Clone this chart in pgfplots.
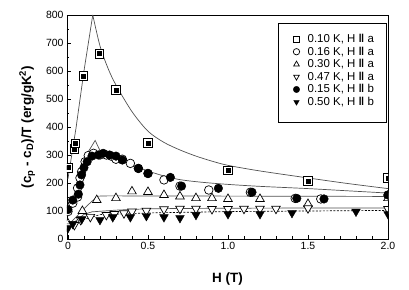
\documentclass[border=0pt]{standalone}
\usepackage{fontspec}
\setmainfont{Liberation Sans}
\usepackage{pgfplots}
\pgfplotsset{compat=1.18}
\definecolor{lngray}{RGB}{80,80,80}
\begin{document}
\begin{tikzpicture}
\begin{axis}[
 scale only axis, width=321bp, height=224bp,
 xmin=-0.006, xmax=2.0, ymin=0, ymax=800,
 xtick={0,0.5,1,1.5,2}, xticklabels={0,0.5,1.0,1.5,2.0},
 minor x tick num=4,
 ytick={0,100,...,800}, minor y tick num=1,
 tick pos=left, tick align=inside,
 major tick length=4bp, minor tick length=2.5bp,
 tick style={black, line width=0.6pt},
 axis line style={line width=0.8pt},
 ticklabel style={font=\fontsize{10.5}{12}\selectfont},
 /pgf/number format/assume math mode=true,
 xlabel={\textbf{H (T)}},
 ylabel={\textbf{(c\textsubscript{p} - c\textsubscript{D})/T (erg/gK\textsuperscript{2})}},
 label style={font=\fontsize{13.5}{15}\selectfont\bfseries},
 xlabel style={yshift=-16bp},
 ylabel style={yshift=4bp},
 clip marker paths=true,
 legend style={at={(0.994,0.964)}, anchor=north east, draw=black, fill=white,
   font=\fontsize{11.5}{11.5}\selectfont, inner xsep=10bp, inner ysep=9bp, row sep=-1.2bp,
   /tikz/every odd column/.append style={column sep=6bp}},
 legend cell align=left,
 legend image post style={mark size=3.2bp},
]
% fitted lines
\addplot[lngray, line width=0.7pt, forget plot] coordinates {(0,215) (0.05,395) (0.1,600) (0.155,800)};
\addplot[lngray, line width=0.7pt, smooth, forget plot] coordinates {(0.155,800) (0.2,690) (0.25,610) (0.3,550) (0.4,455) (0.5,385) (0.6,345) (0.7,318) (0.8,296) (0.9,278) (1.0,263) (1.2,243) (1.5,218) (1.75,198) (2.0,180)};
\addplot[lngray, line width=0.7pt, forget plot] coordinates {(0,90) (0.03,125) (0.06,175) (0.09,240) (0.12,305) (0.17,352) (0.2,316)};
\addplot[lngray, line width=0.7pt, smooth, forget plot] coordinates {(0.2,316) (0.3,290) (0.4,265) (0.5,243) (0.6,225) (0.7,212) (0.83,203) (1.0,195) (1.2,188) (1.5,180) (1.75,172) (2.0,164)};
\addplot[lngray, line width=0.7pt, forget plot] coordinates {(0,50) (0.05,78) (0.1,108) (0.15,135) (0.19,153) (0.25,154) (2.0,152)};
\addplot[lngray, line width=0.7pt, forget plot] coordinates {(0,45) (0.05,65) (0.1,88) (0.15,97) (0.3,103) (0.5,108) (1.0,110) (2.0,111)};
\addplot[black, line width=0.7pt, dash pattern=on 2pt off 1.5pt, forget plot] coordinates {(0,38) (0.1,70) (0.2,87) (0.5,93) (1.0,98) (2.0,102)};
% data
\addplot[only marks, mark=square*, mark size=4.3bp, mark options={draw=black, fill=white, line width=0.7pt}] coordinates {
(0.0,255) (0.04,322) (0.045,342) (0.095,582) (0.195,662) (0.3,532) (0.5,343) (1.0,245) (1.5,208) (2.0,218)};
\addlegendentry{0.10 K, H \textbf{‖} a}
\addplot[only marks, mark=*, mark size=4.3bp, mark options={draw=black, fill=white, line width=0.7pt}] coordinates {
(0.0,98) (0.03,128) (0.06,150) (0.06,182) (0.075,218) (0.085,240) (0.107,276) (0.127,298) (0.16,306) (0.2,300) (0.24,300) (0.27,296) (0.3,285) (0.34,285) (0.39,270) (0.44,252) (0.5,234) (0.6,211) (0.7,189) (0.88,175) (1.14,167) (1.42,145) (1.58,143) (2.0,157)};
\addlegendentry{0.16 K, H \textbf{‖} a}
\addplot[only marks, mark=triangle*, mark size=5bp, mark options={draw=black, fill=white, line width=0.7pt}] coordinates {
(0.0,55) (0.09,100) (0.18,139) (0.3,146) (0.4,170) (0.5,168) (0.6,157) (0.7,152) (0.8,146) (0.9,146) (1.0,143) (1.2,143) (1.5,125) (2.0,146)};
\addlegendentry{0.30 K, H \textbf{‖} a}
\addplot[only marks, mark=triangle*, mark size=5bp, mark options={draw=black, fill=white, line width=0.7pt, rotate=180}] coordinates {
(0.0,45) (0.04,50) (0.08,68) (0.14,79) (0.24,86) (0.29,89) (0.35,92) (0.4,98) (0.49,101) (0.6,106) (0.7,108) (0.8,108) (0.9,107) (1.0,107) (1.1,108) (1.2,108) (1.3,108) (1.5,110) (2.0,107)};
\addlegendentry{0.47 K, H \textbf{‖} a}
\addplot[only marks, mark=*, mark size=4.3bp, mark options={draw=black, fill=black}] coordinates {
(0.0,105) (0.03,139) (0.065,160) (0.075,193) (0.085,229) (0.1,255) (0.12,276) (0.15,296) (0.19,300) (0.22,306) (0.26,300) (0.3,296) (0.34,282) (0.44,252) (0.5,234) (0.64,220) (0.71,189) (0.94,181) (1.15,167) (1.43,145) (1.6,143) (2.0,157)};
\addlegendentry{0.15 K, H \textbf{‖} b}
\addplot[only marks, mark=triangle*, mark size=5bp, mark options={draw=black, fill=black, rotate=180}] coordinates {
(0.0,39) (0.03,54) (0.086,71) (0.2,68) (0.28,78) (0.39,78) (0.49,82) (0.6,78) (0.7,75) (0.8,86) (1.0,89) (1.2,89) (1.4,93) (1.8,98) (2.0,89)};
\addlegendentry{0.50 K, H \textbf{‖} b}
\addplot[only marks, mark=square*, mark size=2bp, mark options={draw=black, fill=black}, forget plot] coordinates {
(0.0,255) (0.04,322) (0.045,342) (0.095,582) (0.195,662) (0.3,532) (0.5,343) (1.0,245) (1.5,208) (2.0,218)};
\addlegendimage{empty legend}\addlegendentry{}
\end{axis}
\pgfresetboundingbox
\path[use as bounding box] ([xshift=-67bp,yshift=-51bp]current axis.south west) rectangle ([xshift=21bp,yshift=15bp]current axis.north east);
\end{tikzpicture}
\end{document}
